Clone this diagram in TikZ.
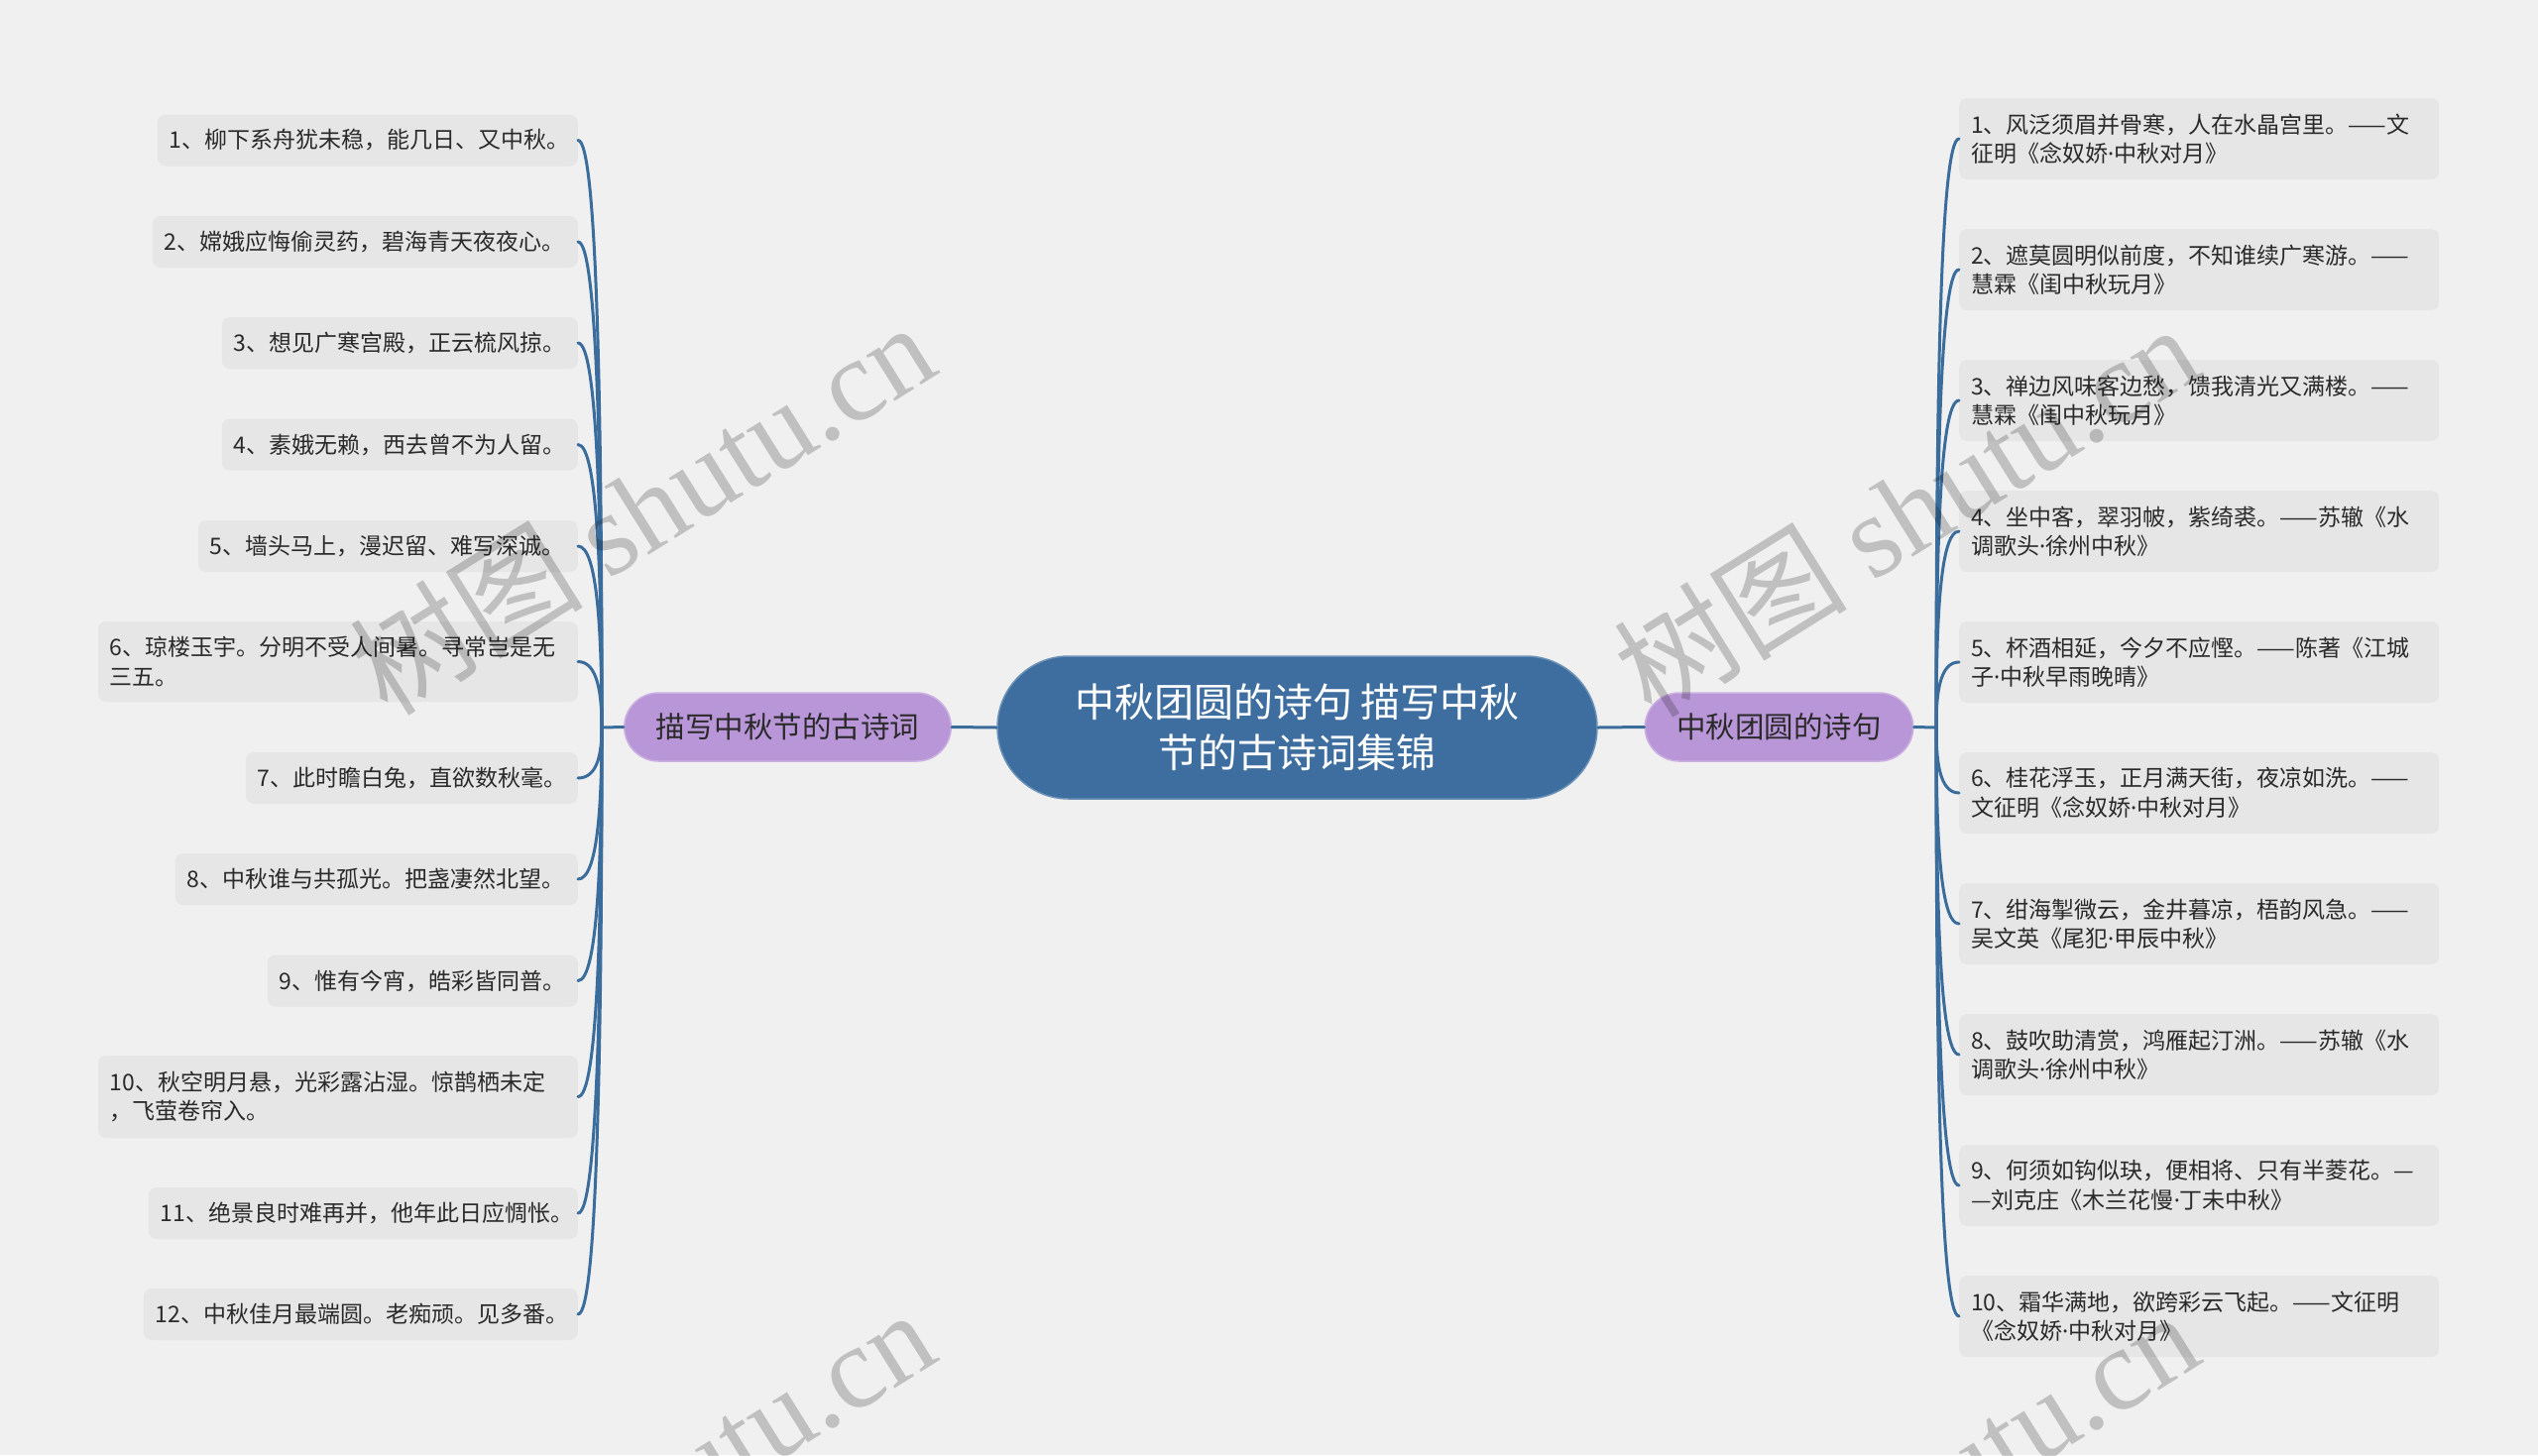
\documentclass[tikz,border=0pt]{standalone}
\usepackage{fontspec}
\newfontfamily\cjk{Noto Sans CJK SC}
\newfontfamily\latinf{Noto Sans}
\newfontfamily\wmserif{Liberation Serif}
\newcommand\mdot{{\latinf ·}}
\usetikzlibrary{calc}
\definecolor{bg}{HTML}{F0F0F0}
\definecolor{leafbg}{HTML}{E6E6E6}
\definecolor{rootc}{HTML}{3D6E9F}
\definecolor{subc}{HTML}{B996D8}
\definecolor{linec}{HTML}{3A6C9C}
\definecolor{txt}{HTML}{2A2A2A}
\begin{document}
\begin{tikzpicture}[x=1pt,y=-1pt,
  root/.style={fill=rootc, draw=rootc!75!white, line width=1.5pt, rounded corners=72pt,
    minimum width=605pt, minimum height=144pt, align=center, text=white,
    font=\cjk\fontsize{40}{51}\selectfont, inner sep=0pt},
  sub/.style={fill=subc, draw=subc!75!white, line width=1.5pt, rounded corners=34.5pt,
    minimum height=69pt, inner xsep=32pt, inner ysep=0pt, text=txt,
    font=\cjk\fontsize{29.5}{34}\selectfont},
  leaf/.style={fill=leafbg, rounded corners=8pt, inner xsep=12pt, inner ysep=0pt,
    minimum height=52pt, align=left, text=txt, font=\cjk\fontsize{23}{29.5}\selectfont},
  leafL/.style={leaf, anchor=east},
  leafR/.style={leaf, anchor=west, text width=460pt, minimum height=82pt},
  conn/.style={draw=linec, line width=3pt, line cap=round},
  brL/.style={to path={.. controls ($(\tikztostart)+(20,0)$) and ($(\tikztotarget)!0.5!(\tikztotarget|-\tikztostart)$) .. (\tikztotarget)}},
  brR/.style={to path={.. controls ($(\tikztostart)+(-20,0)$) and ($(\tikztotarget)!0.5!(\tikztotarget|-\tikztostart)$) .. (\tikztotarget)}},
  wm/.style={rotate=32, text=black, text opacity=0.2, font=\fontsize{118}{118}\selectfont, inner sep=0pt}
]
\useasboundingbox (0,0) rectangle (2560,1468);
\fill[bg] (0,0) rectangle (2560,1468);

% root and main branches
\node[root] (root) at (1308.5,734) {中秋团圆的诗句 描写中秋\\节的古诗词集锦};
\node[sub] (ls) at (794.5,733.5) {描写中秋节的古诗词};
\node[sub] (rs) at (1794.5,733.5) {中秋团圆的诗句};
\coordinate (lj) at (607,734);
\coordinate (rj) at (1953,734);

% left leaves
\node[leafL, text width=400pt] (l1) at (583,141.5) {1、柳下系舟犹未稳，能几日、又中秋。};
\node[leafL, text width=405pt] (l2) at (583,244) {2、嫦娥应悔偷灵药，碧海青天夜夜心。};
\node[leafL, text width=335pt] (l3) at (583,346) {3、想见广寒宫殿，正云梳风掠。};
\node[leafL, text width=335pt] (l4) at (583,448.5) {4、素娥无赖，西去曾不为人留。};
\node[leafL, text width=359pt] (l5) at (583,551) {5、墙头马上，漫迟留、难写深诚。};
\node[leafL, text width=460pt, minimum height=81pt] (l6) at (583,667.5) {6、琼楼玉宇。分明不受人间暑。寻常岂是无\\三五。};
\node[leafL, text width=311pt] (l7) at (583,785) {7、此时瞻白兔，直欲数秋毫。};
\node[leafL, text width=382pt] (l8) at (583,887) {8、中秋谁与共孤光。把盏凄然北望。};
\node[leafL, text width=289pt] (l9) at (583,989.5) {9、惟有今宵，皓彩皆同普。};
\node[leafL, text width=460pt, minimum height=83pt] (l10) at (583,1106.5) {10、秋空明月悬，光彩露沾湿。惊鹊栖未定\\，飞萤卷帘入。};
\node[leafL, text width=409pt] (l11) at (583,1224) {11、绝景良时难再并，他年此日应惆怅。};
\node[leafL, text width=414pt] (l12) at (583,1326) {12、中秋佳月最端圆。老痴顽。见多番。};

% right leaves
\node[leafR] (r1) at (1976,140) {1、风泛须眉并骨寒，人在水晶宫里。——文\\征明《念奴娇\mdot 中秋对月》};
\node[leafR] (r2) at (1976,272) {2、遮莫圆明似前度，不知谁续广寒游。——\\慧霖《闺中秋玩月》};
\node[leafR] (r3) at (1976,404) {3、禅边风味客边愁，馈我清光又满楼。——\\慧霖《闺中秋玩月》};
\node[leafR] (r4) at (1976,536) {4、坐中客，翠羽帔，紫绮裘。——苏辙《水\\调歌头\mdot 徐州中秋》};
\node[leafR] (r5) at (1976,668) {5、杯酒相延，今夕不应慳。——陈著《江城\\子\mdot 中秋早雨晚晴》};
\node[leafR] (r6) at (1976,800) {6、桂花浮玉，正月满天街，夜凉如洗。——\\文征明《念奴娇\mdot 中秋对月》};
\node[leafR] (r7) at (1976,932) {7、绀海掣微云，金井暮凉，梧韵风急。——\\吴文英《尾犯\mdot 甲辰中秋》};
\node[leafR] (r8) at (1976,1064) {8、鼓吹助清赏，鸿雁起汀洲。——苏辙《水\\调歌头\mdot 徐州中秋》};
\node[leafR] (r9) at (1976,1196) {9、何须如钩似玦，便相将、只有半菱花。—\\—刘克庄《木兰花慢\mdot 丁未中秋》};
\node[leafR] (r10) at (1976,1328) {10、霜华满地，欲跨彩云飞起。——文征明\\《念奴娇\mdot 中秋对月》};

% connectors
\draw[conn] (root.west) -- (ls.east);
\draw[conn] (root.east) -- (rs.west);
\draw[conn] (ls.west) -- (lj);
\draw[conn] (rs.east) -- (rj);
\foreach \n in {l1,l2,l3,l4,l5,l6,l7,l8,l9,l10,l11,l12}
  \draw[conn] (\n.east) to[brL] (lj);
\foreach \n in {r1,r2,r3,r4,r5,r6,r7,r8,r9,r10}
  \draw[conn] (\n.west) to[brR] (rj);

% watermarks
\begin{scope}
\clip (0,0) rectangle (2560,1468);
\node[wm] (w1) at (647,512) {\cjk 树图 \wmserif shutu.cn};
\node[wm] (w2) at (1922,514) {\cjk 树图 \wmserif shutu.cn};
\node[wm] (w3) at (647,1508) {\cjk 树图 \wmserif shutu.cn};
\node[wm] (w4) at (1922,1510) {\cjk 树图 \wmserif shutu.cn};
\end{scope}
\end{tikzpicture}
\end{document}
